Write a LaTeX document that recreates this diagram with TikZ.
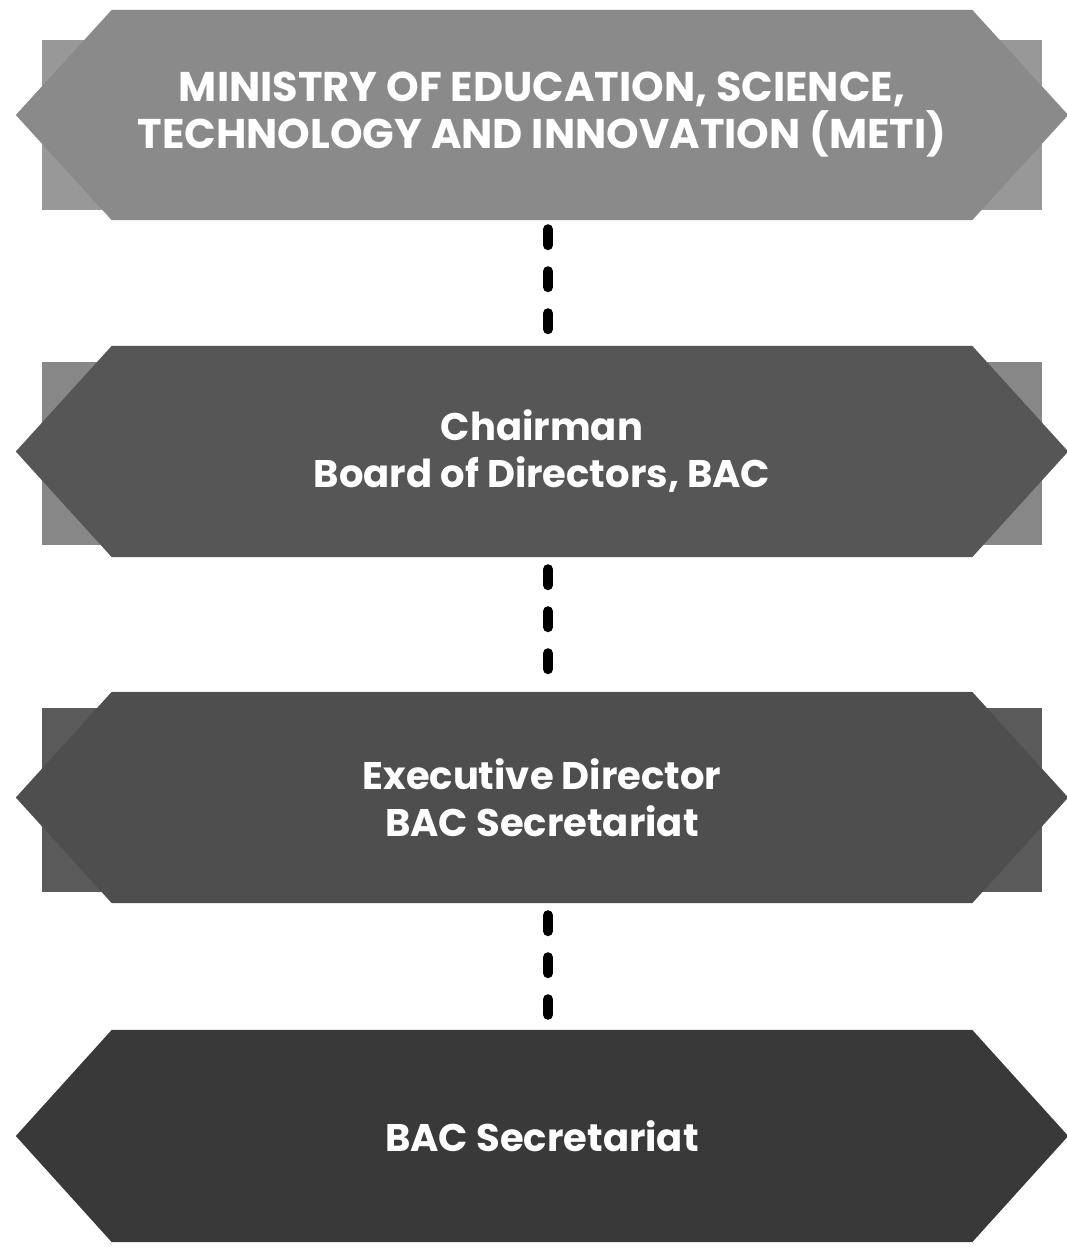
\documentclass[tikz,border=0pt]{standalone}
\usepackage{fontspec}
\setmainfont{Poppins}
\usepackage{tikz}
\usetikzlibrary{calc, backgrounds}

\definecolor{metigray}{HTML}{8A8A8A}
\definecolor{metiback}{HTML}{989898}
\definecolor{chairgray}{HTML}{565656}
\definecolor{chairback}{HTML}{878787}
\definecolor{execgray}{HTML}{4E4E4E}
\definecolor{execback}{HTML}{5A5A5A}
\definecolor{secrgray}{HTML}{393939}

\tikzset{
 band/.style={minimum width=1052pt, minimum height=211pt, inner sep=0pt,
  text=white, align=center, font=\bfseries\fontsize{38.5}{47}\selectfont},
 link/.style={line width=10pt, line cap=round, dash pattern=on 16pt off 26pt,
  shorten <=12pt, shorten >=15pt}
}

% banner with pointed ends, drawn round a named node
\newcommand{\bandshape}[2]{
 \fill[#2] (#1.west) -- ($(#1.north west)+(96,0)$) -- ($(#1.north east)+(-96,0)$)
  -- (#1.east) -- ($(#1.south east)+(-96,0)$) -- ($(#1.south west)+(96,0)$) -- cycle;
}

\begin{document}
\begin{tikzpicture}[x=1pt, y=-1pt]
 \useasboundingbox (0,0) rectangle (1066,1248);

 \node[band, minimum height=210pt, font=\bfseries\fontsize{41.5}{47}\selectfont] (meti) at (542,115)
  {MINISTRY OF EDUCATION, SCIENCE,\\TECHNOLOGY AND INNOVATION (METI)};
 \node[band] (chair) at (542,451.5) {Chairman\\Board of Directors, BAC};
 \node[band] (exec) at (542,797.5) {Executive Director\\BAC Secretariat};
 \node[band, minimum height=212pt] (secr) at (542,1136) {BAC Secretariat};

 \begin{scope}[on background layer]
  \fill[metiback] ($(meti.north west)+(26,30)$) rectangle ($(meti.south east)+(-26,-10)$);
  \bandshape{meti}{metigray}
  \fill[chairback] ($(chair.north west)+(26,16)$) rectangle ($(chair.south east)+(-26,-12)$);
  \bandshape{chair}{chairgray}
  \fill[execback] ($(exec.north west)+(26,16)$) rectangle ($(exec.south east)+(-26,-11)$);
  \bandshape{exec}{execgray}
  \bandshape{secr}{secrgray}
 \end{scope}

 \draw[link, shorten <=9pt] ([xshift=6pt]meti.south) -- ([xshift=6pt]chair.north);
 \draw[link] ([xshift=6pt]chair.south) -- ([xshift=6pt]exec.north);
 \draw[link] ([xshift=6pt]exec.south) -- ([xshift=6pt]secr.north);

\end{tikzpicture}
\end{document}
